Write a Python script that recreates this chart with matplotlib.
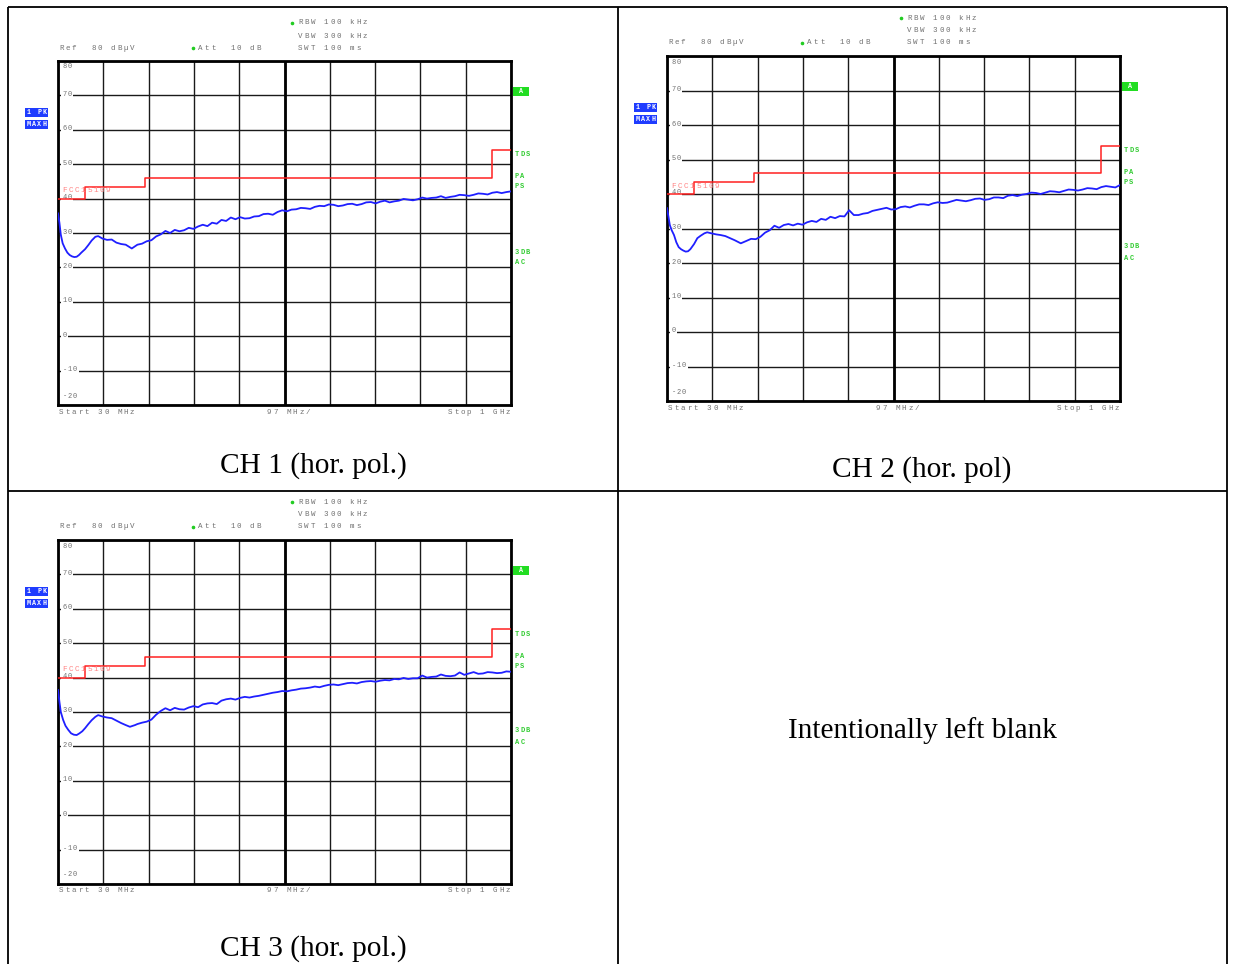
import matplotlib.pyplot as plt
from matplotlib.patches import Rectangle

W, H = 1233, 964

# ---- data ----
# sweep points above 200 MHz are every 10 MHz
f_hi = list(range(200, 1001, 10))

f1_lo = [30, 33, 36, 40, 45, 50, 55, 60, 65, 70, 75, 80, 88, 95, 102, 110, 116, 125, 135, 145,
         155, 165, 175, 188]
ch1_lo = [35.7, 33.0, 29.5, 27.0, 25.5, 24.3, 23.6, 23.2, 23.0, 23.1, 23.6, 24.3, 25.3, 26.5,
          27.8, 28.9, 29.1, 28.4, 28.0, 28.1, 27.2, 26.8, 26.6, 25.5]
ch1_hi = [26.6, 26.9, 27.6, 27.9, 29.0, 29.6, 30.6, 30.0, 30.9, 30.5,
          30.8, 31.5, 31.2, 31.9, 32.4, 32.0, 33.0, 32.7, 33.8, 33.5,
          34.5, 34.0, 34.6, 34.2, 34.3, 34.8, 34.9, 35.5, 35.6, 35.3,
          36.1, 36.6, 36.3, 36.8, 36.9, 37.3, 37.2, 37.0, 37.6, 37.9,
          37.8, 38.3, 38.2, 37.8, 38.0, 38.4, 38.5, 38.1, 38.4, 38.9,
          39.0, 38.6, 39.1, 39.4, 38.9, 39.2, 39.4, 39.9, 39.7, 39.5,
          39.8, 40.3, 40.0, 40.2, 40.3, 40.7, 40.2, 40.5, 40.7, 41.1,
          41.0, 40.8, 41.1, 41.5, 41.4, 41.2, 41.7, 41.9, 41.6, 41.9,
          42.1]

f2_lo = [30, 33, 36, 40, 45, 50, 55, 60, 65, 70, 75, 80, 88, 95, 102, 110, 116, 125, 135, 145,
         155, 165, 175, 188]
ch2_lo = [35.9, 33.5, 31.0, 29.5, 28.1, 26.0, 24.6, 24.0, 23.6, 23.3, 23.4, 24.0, 25.5, 27.2,
          27.9, 28.6, 28.9, 28.6, 28.3, 28.1, 27.8, 27.2, 26.6, 25.7]
ch2_hi = [26.4, 27.0, 26.9, 27.6, 28.8, 29.5, 30.8, 30.2, 31.0, 31.3,
          30.9, 31.4, 31.1, 31.8, 32.2, 31.9, 32.8, 32.5, 33.4, 33.0,
          33.6, 33.5, 35.3, 33.9, 33.9, 34.3, 34.5, 35.1, 35.4, 35.7,
          36.0, 35.5, 35.6, 36.2, 36.4, 36.1, 36.6, 37.0, 37.0, 36.8,
          37.3, 37.6, 37.4, 37.5, 37.9, 38.3, 38.1, 37.9, 38.2, 38.6,
          38.7, 38.3, 38.5, 39.0, 39.0, 38.8, 39.5, 39.7, 39.4, 39.8,
          40.0, 40.4, 40.3, 40.0, 40.4, 40.8, 40.7, 40.5, 40.9, 41.3,
          41.2, 41.0, 41.3, 41.7, 41.6, 41.4, 42.0, 42.3, 42.1, 41.9,
          42.6]

f3_lo = [30, 33, 36, 41, 46, 52, 58, 64, 70, 76, 82, 88, 95, 102, 110, 116, 125, 135, 145, 155,
         165, 175, 184, 195]
ch3_lo = [36.4, 33.0, 30.0, 27.7, 26.0, 24.8, 23.8, 23.4, 23.3, 23.8, 24.4, 25.3, 26.5, 27.6,
          28.6, 29.1, 28.7, 28.4, 28.2, 27.5, 26.8, 26.2, 25.7, 26.2]
ch3_hi = [26.5, 26.9, 27.2, 27.8, 29.2, 30.3, 31.1, 30.5, 31.2, 30.8,
          30.7, 31.3, 31.7, 31.4, 32.2, 32.5, 32.6, 32.3, 33.3, 33.7,
          33.9, 33.6, 34.1, 34.4, 34.2, 34.5, 34.7, 35.0, 35.3, 35.6,
          35.8, 36.1, 36.0, 36.3, 36.5, 36.8, 36.9, 37.1, 37.4, 37.2,
          37.6, 37.9, 38.0, 37.8, 38.1, 38.4, 38.5, 38.3, 38.7, 38.9,
          39.0, 38.8, 39.1, 39.3, 39.2, 39.6, 39.5, 39.9, 39.6, 39.8,
          39.8, 40.6, 40.0, 40.2, 40.3, 40.9, 40.5, 40.4, 40.6, 41.5,
          40.8, 41.2, 41.6, 41.1, 41.2, 41.6, 41.5, 41.3, 41.4, 41.8,
          41.7]

limit_f = [30, 88, 216, 960, 1000]
limit_db = [40, 43.5, 46, 54, 54]

y_labels = [70, 60, 50, 40, 30, 20, 10, 0, -10]
captions = ["CH 1 (hor. pol.)", "CH 2 (hor. pol)", "CH 3 (hor. pol.)"]
side_labels = [("TDS", 94), ("PA", 116), ("PS", 126), ("3DB", 191), ("AC", 202)]

GRAY = '#707070'
GREEN = '#33cc33'
BLUE = '#1f1fff'
MONO = 'Liberation Mono'

fig = plt.figure(figsize=(W / 100, H / 100), dpi=100)
ov = fig.add_axes([0, 0, 1, 1])
ov.set_xlim(0, W)
ov.set_ylim(H, 0)
ov.axis('off')


def mtext(target, x, y, s, pitch=6.45, ha='left', size=5.4, color=GRAY, **kw):
    # analyser-style text with wide fixed letter pitch, placed in pixel coords
    n = len(s)
    if ha == 'left':
        start = x
    elif ha == 'right':
        start = x - n * pitch
    else:
        start = x - n * pitch / 2
    for i, ch in enumerate(s):
        if ch != ' ':
            target.text(start + (i + 0.5) * pitch, y, ch, ha='center', va='center',
                        family=MONO, fontsize=size, color=color,
                        transform=ov.transData, **kw)


# table frame
lk = dict(color='black', lw=1.3, solid_capstyle='butt')
ov.plot([8, 1227], [7, 7], **lk)
ov.plot([8, 1227], [491, 491], **lk)
for xx in (8, 618, 1227):
    ov.plot([xx, xx], [7, 964], **lk)


def panel(x0, y0, x1, y1, freqs, trace, caption, cap_x, cap_y):
    # header
    mtext(ov, x0, y0 - 13, "Ref  80 dBµV")
    mtext(ov, x0 + 139, y0 - 13, "Att  10 dB")
    mtext(ov, x0 + 239, y0 - 38, "RBW 100 kHz")
    mtext(ov, x0 + 239, y0 - 25, "VBW 300 kHz")
    mtext(ov, x0 + 239, y0 - 13, "SWT 100 ms")
    ov.plot([x0 + 135, x0 + 234], [y0 - 13, y0 - 38], ls='none', marker='o', ms=1.6,
            color='#22cc22')
    # left blue boxes
    for i, lab in enumerate(["1 PK", "MAXH"]):
        by = y0 + 47 + i * 12
        ov.add_patch(Rectangle((x0 - 33, by), 23, 8.5, color='#1f3cff', lw=0))
        mtext(ov, x0 - 32, by + 4.3, lab, pitch=5.3, size=4.8, color='white',
              fontweight='bold')
    # green A box and side labels
    ov.add_patch(Rectangle((x1 + 2, y0 + 26), 16, 8.5, color='#22dd22', lw=0))
    ov.text(x1 + 10, y0 + 30.3, "A", ha='center', va='center', family=MONO,
            fontsize=4.8, color='white', fontweight='bold')
    for lab, dy in side_labels:
        mtext(ov, x1 + 3, y0 + dy, lab, pitch=5.6, size=5, color=GREEN, fontweight='bold')
    # bottom labels
    mtext(ov, x0, y1 + 7, "Start 30 MHz")
    mtext(ov, (x0 + x1) / 2 + 4, y1 + 7, "97 MHz/", ha='center')
    mtext(ov, x1, y1 + 7, "Stop 1 GHz", ha='right')
    ov.text(cap_x, cap_y, caption, ha='center', va='center',
            family='Liberation Serif', fontsize=21.2)

    ax = fig.add_axes([x0 / W, 1 - y1 / H, (x1 - x0) / W, (y1 - y0) / H])
    ax.set_xlim(30, 1000)
    ax.set_ylim(-20, 80)
    ax.set_xticks([30 + 97 * k for k in range(11)])
    ax.set_yticks(range(-20, 81, 10))
    ax.tick_params(length=0, labelbottom=False, labelleft=False)
    ax.grid(True, color='#1a1a1a', lw=1.0)
    ax.axvline(515, color='black', lw=2)
    for s in ax.spines.values():
        s.set_linewidth(2)
    ax.set_axisbelow(True)

    # level labels drawn on the grid lines
    dbpx = (y1 - y0) / 100.0
    mtext(ax, x0 + 4, y0 + 6, "80", pitch=5.2, size=5)
    mtext(ax, x0 + 4, y1 - 9, "-20", pitch=5.2, size=5)
    for v in y_labels:
        yy = y0 + (80 - v) * dbpx
        n = len(str(v))
        ax.add_patch(Rectangle((x0 + 3, yy - 3), n * 5.2 + 2, 6, transform=ov.transData,
                               facecolor='white', edgecolor='none', zorder=2.5))
        mtext(ax, x0 + 4, yy - 1, str(v), pitch=5.2, size=5, zorder=3)

    ax.step(limit_f, limit_db, where='post', color='#ff2020', lw=1.1, zorder=4)
    mtext(ax, x0 + 3, y0 + (80 - 42.3) * dbpx, "FCC15109", pitch=6.3, size=5.6,
          color='#ff8585', zorder=5)
    ax.plot(freqs, trace, color=BLUE, lw=1.3, zorder=6)


panel(58, 61, 511, 405, f1_lo + f_hi, ch1_lo + ch1_hi, captions[0], 313, 466)
panel(667, 56, 1120, 401, f2_lo + f_hi, ch2_lo + ch2_hi, captions[1], 922, 470)
panel(58, 540, 511, 884, f3_lo + f_hi, ch3_lo + ch3_hi, captions[2], 313, 949)
ov.text(922, 731, "Intentionally left blank", ha='center', va='center',
        family='Liberation Serif', fontsize=21.2)

fig.savefig("out.png", dpi=100)
